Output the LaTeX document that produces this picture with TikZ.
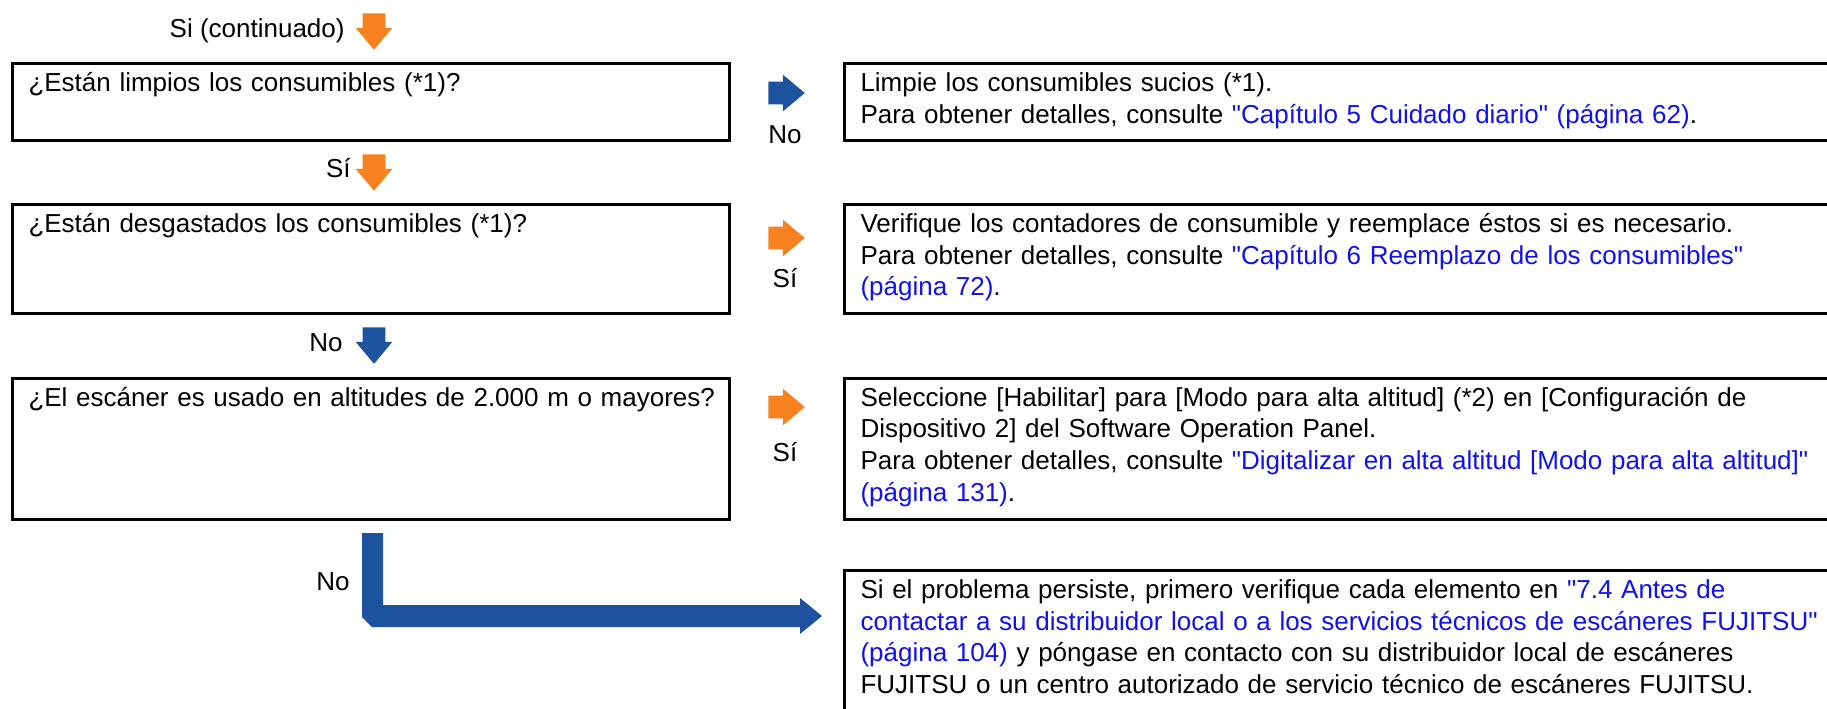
\documentclass[tikz,border=0pt]{standalone}
\usepackage{fontspec}
\setmainfont{Liberation Sans}[Ligatures=TeXOff]
\usetikzlibrary{shapes.arrows,positioning}
\definecolor{naranja}{RGB}{247,129,30}
\definecolor{azulosc}{RGB}{29,82,158}
\definecolor{enlace}{RGB}{17,17,238}
\newcommand{\enlace}[1]{\textcolor{enlace}{#1}}
\tikzset{
  pregunta/.style={draw, line width=1.5pt, anchor=north west, inner xsep=8pt,
    inner ysep=0pt, text height=14pt, align=left, text width=342.5pt},
  accion/.style={pregunta, text width=520pt},
  flecha/.style={single arrow, draw=none, fill=#1, anchor=tail,
    minimum height=17pt, minimum width=18pt, inner sep=5.5pt,
    single arrow head extend=3.5pt, single arrow tip angle=80},
  etiqueta/.style={inner sep=0pt}
}
\begin{document}
\begin{tikzpicture}[x=0.5pt,y=-0.5pt,font=\fontsize{13pt}{15.85pt}\selectfont]
  \clip (0,0) rectangle (1827,708);
  % Preguntas
  \node[pregunta, text depth=24.5pt] (p1) at (11,62) {¿Están limpios los consumibles (*1)?};
  \node[pregunta, text depth=40.5pt] (p2) at (11,203) {¿Están desgastados los consumibles (*1)?};
  \node[pregunta, text depth=56.75pt] (p3) at (11,376.5) {\mbox{¿El escáner es usado en altitudes de 2.000 m o mayores?}};
  % Acciones
  \node[accion, text depth=24.5pt] (a1) at (843,62) {Limpie los consumibles sucios (*1).\\
    Para obtener detalles, consulte \enlace{"Capítulo 5 Cuidado diario" (página 62)}.};
  \node[accion, text depth=40.5pt] (a2) at (843,203) {Verifique los contadores de consumible y reemplace éstos si es necesario.\\
    Para obtener detalles, consulte \enlace{"Capítulo 6 Reemplazo de los consumibles"}\\
    \enlace{(página 72)}.};
  \node[accion, text depth=56.75pt] (a3) at (843,376.5) {Seleccione [Habilitar] para [Modo para alta altitud] (*2) en [Configuración de\\
    Dispositivo 2] del Software Operation Panel.\\
    Para obtener detalles, consulte \enlace{"Digitalizar en alta altitud [Modo para alta altitud]"}\\
    \enlace{(página 131)}.};
  \node[accion, text depth=70pt] (a4) at (843,569) {Si el problema persiste, primero verifique cada elemento en \enlace{"7.4 Antes de}\\
    \enlace{contactar a su distribuidor local o a los servicios técnicos de escáneres FUJITSU"}\\
    \enlace{(página 104)} y póngase en contacto con su distribuidor local de escáneres\\
    FUJITSU o un centro autorizado de servicio técnico de escáneres FUJITSU.};
  % Flechas hacia abajo
  \node[flecha=naranja, shape border rotate=270] (f0) at (374,13) {};
  \node[flecha=naranja, shape border rotate=270] (f1) at (374,154) {};
  \node[flecha=azulosc, shape border rotate=270] (f2) at (374,327) {};
  \node[etiqueta, anchor=base east] (t0) at (345,37) {Si (continuado)};
  \node[etiqueta, anchor=base east] (t1) at (351,177) {Sí};
  \node[etiqueta, anchor=base east] (t2) at (343,351) {No};
  % Flechas hacia la derecha
  \node[flecha=azulosc] (g1) at (768,93) {};
  \node[flecha=naranja] (g2) at (768,238) {};
  \node[flecha=naranja] (g3) at (768,407) {};
  \node[etiqueta, anchor=base] (u1) at (785,143) {No};
  \node[etiqueta, anchor=base] (u2) at (785,287) {Sí};
  \node[etiqueta, anchor=base] (u3) at (785,461) {Sí};
  % Flecha final
  \fill[azulosc] (362,533) -- (383,533) -- (383,605) -- (800,605) -- (800,598) -- (822,616)
    -- (800,634) -- (800,627) -- (372,627) -- (362,617) -- cycle;
  \node[etiqueta, anchor=base east] (t3) at (350,590) {No};
\end{tikzpicture}
\end{document}
